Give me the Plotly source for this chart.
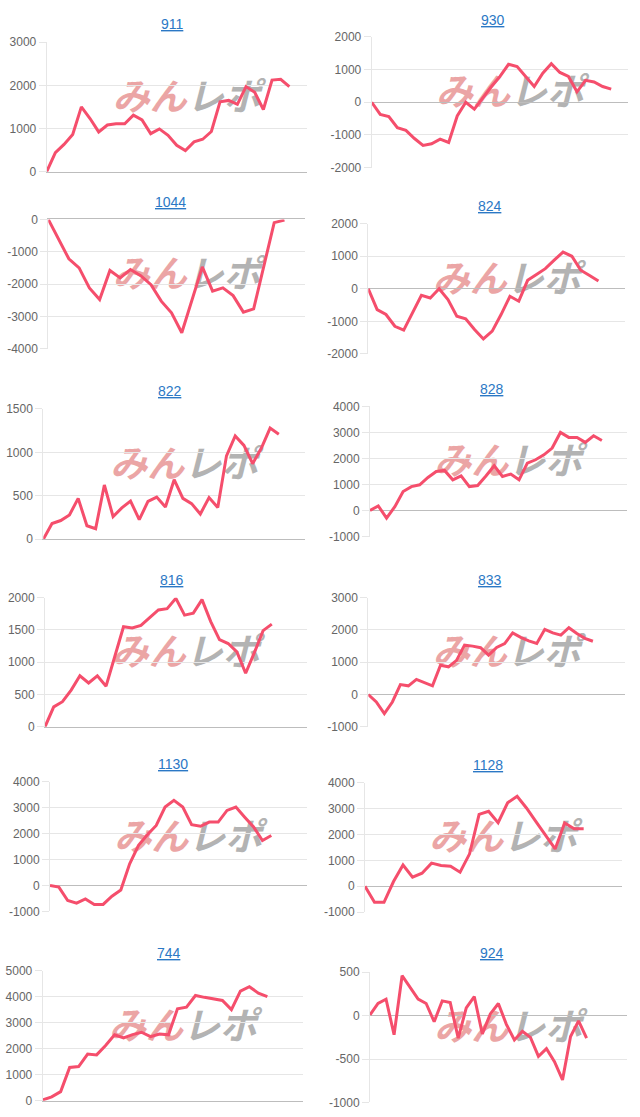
import plotly.graph_objects as go

# ---------------- data ----------------
titles = ["911", "930", "1044", "824", "822", "828", "816", "833", "1130", "1128", "744", "924"]

v911 = [0, 440, 630, 860, 1500, 1230, 920, 1080, 1110, 1110, 1310, 1200, 880, 990, 840, 610, 490, 690, 750, 930,
        1620, 1650, 1560, 1970, 1840, 1440, 2120, 2140, 1970]
v930 = [0, -370, -440, -780, -860, -1110, -1320, -1270, -1130, -1230, -420, 0, -210, 140, 480, 790, 1160, 1090, 790,
        480, 890, 1180, 910, 790, 320, 670, 620, 480, 400]
v1044 = [0, -600, -1220, -1500, -2120, -2480, -1580, -1810, -1550, -1740, -2020, -2530, -2890, -3510, -2480, -1470,
         -2220, -2120, -2360, -2870, -2770, -1440, -100, -20]
v824 = [0, -640, -790, -1150, -1270, -720, -200, -280, 0, -330, -840, -920, -1250, -1540, -1300, -790, -230, -380,
        260, 440, 620, 880, 1130, 1000, 570, 410, 240]
v822 = [0, 180, 215, 280, 470, 155, 120, 625, 260, 360, 440, 225, 435, 485, 370, 685, 470, 410, 290, 480, 365, 960,
        1190, 1080, 870, 1050, 1280, 1210]
v828 = [0, 180, -290, 150, 730, 920, 990, 1270, 1500, 1540, 1180, 1330, 920, 960, 1330, 1720, 1310, 1400, 1180, 1820,
        1950, 2140, 2400, 3000, 2810, 2810, 2620, 2870, 2690]
v816 = [0, 310, 390, 570, 790, 680, 790, 630, 1090, 1550, 1530, 1570, 1690, 1810, 1830, 1990, 1730, 1760, 1970, 1630,
        1350, 1290, 1160, 830, 1150, 1490, 1590]
v833 = [0, -230, -590, -230, 310, 270, 470, 370, 270, 910, 860, 1060, 1530, 1500, 1450, 1220, 1460, 1580, 1910, 1770,
        1660, 1580, 2020, 1910, 1840, 2070, 1890, 1740, 1650]
v1130 = [0, -60, -580, -680, -520, -730, -730, -410, -170, 840, 1550, 1960, 2320, 3030, 3290, 3030, 2350, 2290, 2450,
         2450, 2900, 3030, 2640, 2260, 1740, 1930]
v1128 = [0, -620, -620, 180, 820, 350, 500, 890, 800, 770, 540, 1250, 2770, 2890, 2450, 3220, 3470, 3010, 2480, 1950,
         1440, 2440, 2220, 2220]
v744 = [30, 150, 350, 1280, 1310, 1790, 1760, 2120, 2530, 2410, 2540, 2630, 2460, 2560, 2530, 3530, 3590, 4040, 3970,
        3910, 3850, 3500, 4210, 4380, 4130, 4000]
v924 = [10, 140, 190, -220, 460, 330, 190, 140, -70, 170, 150, -260, 90, 220, -210, 20, 140, -100, -280, -180, -250,
        -470, -380, -530, -740, -240, -60, -260]

series = [v911, v930, v1044, v824, v822, v828, v816, v833, v1130, v1128, v744, v924]

# number of x-category slots per chart (hidden x labels)
x_slots = [31, 31, 26, 30, 31, 32, 31, 33, 30, 28, 30, 33]

# y tick values per chart
y_ticks = [
    [0, 1000, 2000, 3000],
    [-2000, -1000, 0, 1000, 2000],
    [-4000, -3000, -2000, -1000, 0],
    [-2000, -1000, 0, 1000, 2000],
    [0, 500, 1000, 1500],
    [-1000, 0, 1000, 2000, 3000, 4000],
    [0, 500, 1000, 1500, 2000],
    [-1000, 0, 1000, 2000, 3000],
    [-1000, 0, 1000, 2000, 3000, 4000],
    [-1000, 0, 1000, 2000, 3000, 4000],
    [0, 1000, 2000, 3000, 4000, 5000],
    [-1000, -500, 0, 500],
]

# ---------------- geometry (pixels) ----------------
W, H = 640, 1117
# x0, x1, ytop, ybottom of each plot area
boxes = [
    (46.7, 306.7, 43.0, 172.3),
    (371.7, 628.3, 37.7, 168.3),
    (48.3, 305.0, 220.0, 349.0),
    (368.3, 625.0, 224.3, 354.3),
    (43.3, 305.0, 409.3, 539.3),
    (370.0, 626.7, 406.7, 536.7),
    (45.0, 306.7, 597.7, 726.7),
    (368.3, 625.0, 597.7, 726.7),
    (50.0, 306.7, 781.7, 911.0),
    (365.0, 621.7, 782.3, 911.7),
    (42.7, 303.3, 970.0, 1100.0),
    (370.0, 626.7, 971.7, 1101.7),
]
title_pos = [
    (172, 25), (493, 20.7), (170.7, 202.3), (490, 206.7), (170, 391.7), (491.7, 389),
    (171.7, 580), (490, 580), (172.7, 764), (487.7, 765), (169, 952.3), (491.7, 952.7),
]


def py(y):
    # compensate the vertical offset/scale observed in the rendered page
    return (y - 7.9) / 0.986


LINE = "#f54e6c"
GRID = "#e6e6e6"
ZERO = "#bdbdbd"
TICKC = "#666666"
FONT = "Arial, Liberation Sans, sans-serif"

fig = go.Figure()
layout = dict(
    width=W, height=H, margin=dict(l=0, r=0, t=0, b=0),
    paper_bgcolor="white", plot_bgcolor="rgba(0,0,0,0)",
    showlegend=False, font=dict(family=FONT),
)
annotations = []
shapes = []

for i, (t, v, ns, tk, box, tp) in enumerate(zip(titles, series, x_slots, y_ticks, boxes, title_pos), start=1):
    sfx = "" if i == 1 else str(i)
    x0, x1, yt, yb = box
    fig.add_trace(go.Scatter(
        x=list(range(len(v))), y=v, mode="lines",
        line=dict(color=LINE, width=3),
        xaxis="x" + sfx, yaxis="y" + sfx, hoverinfo="skip",
    ))
    zero_at_edge = tk[0] == 0 or tk[-1] == 0
    layout["xaxis" + sfx] = dict(
        domain=[x0 / W, x1 / W], range=[0, ns - 1], anchor="y" + sfx,
        showticklabels=False, showgrid=False, zeroline=False, ticks="",
        showline=zero_at_edge, linecolor=ZERO, linewidth=1,
        side="top" if tk[-1] == 0 else "bottom", fixedrange=True,
    )
    layout["yaxis" + sfx] = dict(
        domain=[1 - py(yb) / H, 1 - py(yt) / H], range=[tk[0], tk[-1]], anchor="x" + sfx,
        tickmode="array", tickvals=tk, ticktext=[str(k) for k in tk],
        showgrid=True, gridcolor=GRID, gridwidth=1,
        zeroline=True, zerolinecolor=ZERO, zerolinewidth=1,
        showline=True, linecolor=GRID, linewidth=1,
        ticks="outside", ticklen=7, tickcolor=GRID,
        tickfont=dict(size=12, color=TICKC, family=FONT), fixedrange=True,
    )
    # title
    annotations.append(dict(
        x=tp[0] / W, y=1 - py(tp[1]) / H, xref="paper", yref="paper",
        text="<u>" + t + "</u>", showarrow=False, xanchor="center", yanchor="middle",
        font=dict(size=14, color="#2b78c5", family=FONT),
    ))
    # watermark
    cx = (x0 + x1) / 2 + 10
    cy = py((yt + yb) / 2 - 7)
    shapes.append(dict(
        type="rect", xref="paper", yref="paper",
        x0=(cx - 80) / W, x1=(cx + 80) / W, y0=1 - (cy + 15) / H, y1=1 - (cy - 15) / H,
        line=dict(width=0), fillcolor="rgba(0,0,0,0)", layer="below",
        label=dict(
            text='<b><i><span style="color:#eba5a5">みん</span><span style="color:#b3b3b3">レポ</span></i></b>',
            font=dict(family="Noto Sans CJK JP", size=37, weight=900),
            textposition="middle center",
        ),
    ))

layout["annotations"] = annotations
layout["shapes"] = shapes
fig.update_layout(**layout)
post = ("document.documentElement.style.margin='0';document.documentElement.style.padding='0';"
        "document.documentElement.style.overflow='hidden';"
        "document.body.style.margin='0';document.body.style.padding='0';document.body.style.overflow='hidden';")
fig.write_html("out.html", post_script=post, config={"displayModeBar": False})
